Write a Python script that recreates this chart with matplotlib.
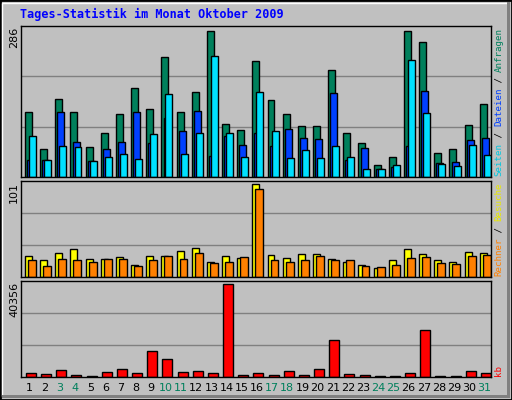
import matplotlib
matplotlib.use("Agg")
import matplotlib.pyplot as plt
from matplotlib.patches import Rectangle
import numpy as np

days = list(range(1, 32))
weekend = [3, 4, 10, 11, 17, 18, 24, 25, 31]
hits = [127, 54, 153, 127, 58, 86, 123, 174, 134, 235, 128, 167, 286, 104, 92, 228,
        151, 123, 100, 100, 209, 86, 67, 24, 39, 286, 264, 48, 54, 102, 144]
files = [33, 33, 128, 69, 31, 54, 69, 127, 67, 115, 90, 130, 41, 81, 62, 86,
         60, 94, 77, 75, 165, 33, 56, 16, 20, 60, 169, 27, 29, 73, 77]
pages = [81, 33, 60, 58, 31, 39, 46, 35, 85, 163, 46, 86, 237, 86, 39, 167,
         90, 37, 52, 37, 60, 39, 16, 16, 24, 230, 125, 25, 22, 62, 43]
visits = [23, 19, 26, 31, 20, 20, 22, 13, 23, 23, 28, 32, 16, 23, 21, 101,
          24, 21, 25, 25, 20, 16, 13, 10, 19, 31, 25, 19, 16, 27, 26]
sites = [19, 12, 20, 18, 16, 20, 20, 12, 19, 23, 20, 26, 15, 16, 22, 96,
         18, 16, 18, 23, 19, 18, 12, 11, 13, 21, 22, 15, 14, 23, 24]
kbytes = [1840, 1420, 3100, 990, 570, 2270, 3540, 1840, 11190, 7790, 2270, 2690, 1840, 40356, 990, 1840,
          990, 2690, 990, 3540, 16280, 1420, 990, 570, 570, 1840, 20530, 570, 570, 2690, 1840]

W, H = 512, 400
fig = plt.figure(figsize=(W/100, H/100), dpi=100)
fig.patch.set_facecolor("#C0C0C0")
fig.patches.append(Rectangle((0, 0), 1, 1, transform=fig.transFigure, fill=False, ec="black", lw=2))
fig.patches.append(Rectangle((2/W, 4/H), (W-6)/W, (H-7)/H, transform=fig.transFigure, fill=False, ec="white", lw=1))
fig.patches.append(Rectangle((2/W, 2/H), (W-4)/W, 3/H, transform=fig.transFigure, fc="#808080", ec="none"))
fig.patches.append(Rectangle(((W-5)/W, 2/H), 3/W, (H-4)/H, transform=fig.transFigure, fc="#808080", ec="none"))

def ax_at(x0, y0, x1, y1):
    a = fig.add_axes([x0/W, 1-y1/H, (x1-x0)/W, (y1-y0)/H])
    a.set_facecolor("#C0C0C0")
    a.set_xlim(0.5, 31.5)
    a.set_xticks([]); a.set_yticks([])
    for s in a.spines.values():
        s.set_color("black"); s.set_linewidth(1)
    return a

x = np.array(days, dtype=float)
ek = dict(edgecolor="black", linewidth=1, align="edge")

a1 = ax_at(21, 26, 491, 177)
m1 = max(hits)
a1.set_ylim(0, m1*1.035)
for g in (1/3, 2/3):
    a1.axhline(m1*1.035*g, color="#808080", lw=1, zorder=0)
a1.bar(x-0.5+0.26, hits, 0.46, color="#00805C", **ek)
a1.bar(x-0.5+0.40, files, 0.46, color="#0040FF", **ek)
a1.bar(x-0.5+0.53, pages, 0.46, color="#00E0FF", **ek)

a2 = ax_at(21, 181, 491, 277)
m2 = max(visits)
a2.set_ylim(0, m2*1.035)
for g in (1/3, 2/3):
    a2.axhline(m2*1.035*g, color="#808080", lw=1, zorder=0)
a2.bar(x-0.5+0.26, visits, 0.46, color="#FFFF00", **ek)
a2.bar(x-0.5+0.46, sites, 0.52, color="#FF8000", **ek)

a3 = ax_at(21, 281, 491, 377)
m3 = max(kbytes)
a3.set_ylim(0, m3*1.035)
for g in (1/3, 2/3):
    a3.axhline(m3*1.035*g, color="#808080", lw=1, zorder=0)
a3.bar(x-0.5+0.33, kbytes, 0.66, color="#FF0000", **ek)
for d in days:
    fig.text((21 + (d-0.5)*470/31 + 1)/W, 1-388/H, str(d), ha="center", va="center",
             fontsize=8, color="#00805C" if d in weekend else "black", family="DejaVu Sans")

fig.text(20/W, 1-14/H, "Tages-Statistik im Monat Oktober 2009", color="#0000FF",
         fontsize=8.5, fontweight="bold", family="DejaVu Sans Mono", va="center")

for lab, ytop in (("286", 27), ("101", 182), ("40356", 282)):
    fig.text(14/W, 1-ytop/H, lab, rotation=90, ha="center", va="top", fontsize=8, family="DejaVu Sans")

FS = 6.6
STEP = 0.6 * FS * 100 / 72
def vlabel(parts, ybottom):
    y = ybottom
    for txt, col in parts:
        fig.text(499/W, 1-y/H, txt.replace(" ", "\u00a0"), rotation=90, ha="center", va="bottom",
                 rotation_mode="default", fontsize=FS, color=col, family="DejaVu Sans Mono")
        y -= len(txt)*STEP

vlabel([("Seiten", "#00C8E0"), (" / ", "black"), ("Dateien", "#0040FF"), (" / ", "black"), ("Anfragen", "#00805C")], 176)
vlabel([("Rechner", "#FF8000"), (" / ", "black"), ("Besuche", "#E8E800")], 276)
vlabel([("kb", "#FF0000")], 376)

fig.savefig("out.png", dpi=100, facecolor=fig.get_facecolor())
